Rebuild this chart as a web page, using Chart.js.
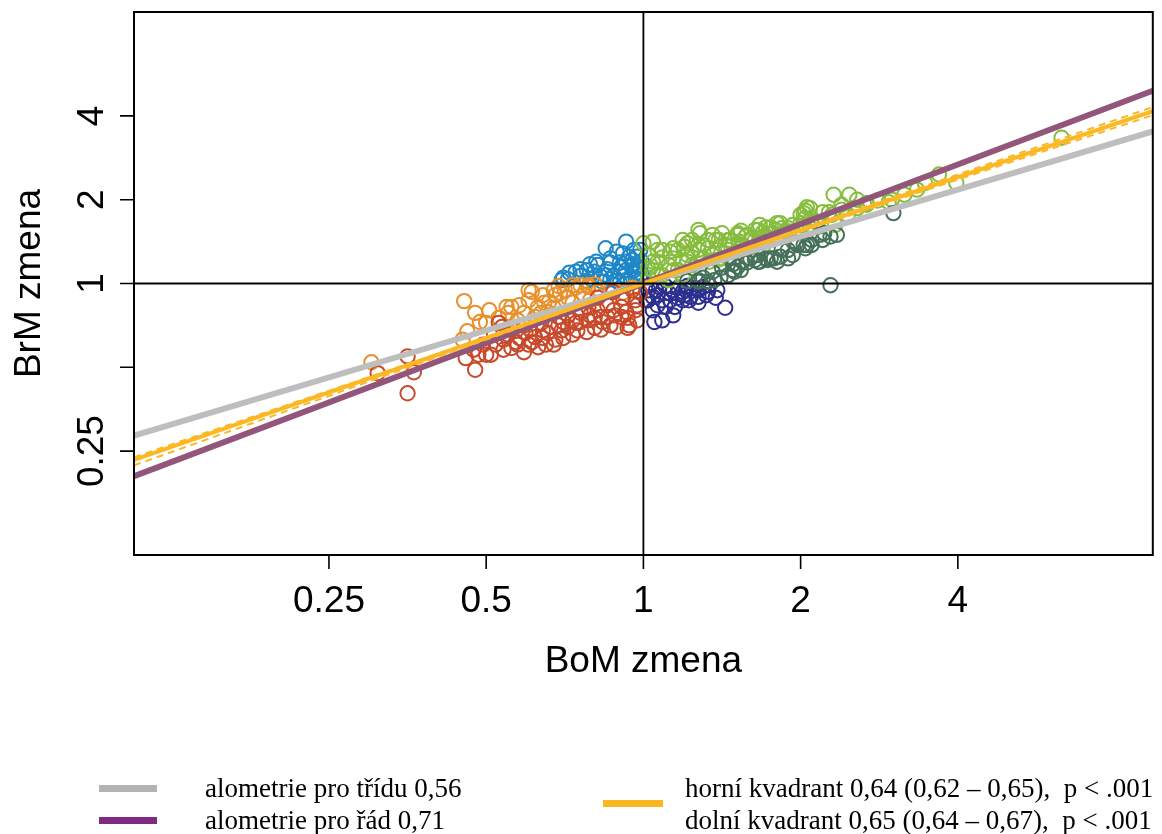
<!DOCTYPE html>
<html lang="cs">
<head>
<meta charset="utf-8">
<title>BrM zmena vs BoM zmena</title>
<script src="https://cdn.jsdelivr.net/npm/chart.js@4.4.1/dist/chart.umd.min.js"></script>
<style>
  html, body { margin: 0; padding: 0; background: #fff; overflow: hidden; }
  #wrap { position: relative; width: 1162px; height: 834px; }
  #chart { position: absolute; left: 0; top: 0; }
  .sw { position: absolute; height: 7px; }
  .lg { position: absolute; font-family: 'Liberation Serif', 'DejaVu Serif', serif; font-size: 27px; line-height: 30px; color: #000; white-space: pre; }
</style>
</head>
<body>
<div id="wrap">
  <canvas id="chart" width="1162" height="834"></canvas>
  <div class="sw" style="left:99px;top:785px;width:58px;background:#b3b3b3"></div>
  <div class="sw" style="left:99px;top:817px;width:58px;background:#7e2a84"></div>
  <div class="sw" style="left:603px;top:800px;width:60px;background:#fbb722"></div>
  <div class="lg" style="left:205px;top:773px">alometrie pro třídu 0,56</div>
  <div class="lg" style="left:205px;top:805px">alometrie pro řád 0,71</div>
  <div class="lg" style="left:685px;top:773px">horní kvadrant 0,64 (0,62 – 0,65),  p &lt; .001</div>
  <div class="lg" style="left:685px;top:805px">dolní kvadrant 0,65 (0,64 – 0,67),  p &lt; .001</div>
</div>
<script>
// values are log2 of the change ratio: [BoM, BrM]
const ptsOrange = [
  [-1.73,-0.94], [-1.14,-0.21], [-1.07,-0.35], [-1.04,-0.46], [-1.00,-0.47], [-1.12,-0.57],
  [-1.15,-0.67], [-0.87,-0.28], [-0.84,-0.28], [-0.86,-0.35], [-0.76,-0.35], [-0.71,-0.10],
  [-0.67,-0.28], [-0.63,-0.23], [-0.60,-0.22], [-0.56,-0.14], [-0.53,-0.11], [-0.50,-0.08],
  [-0.43,-0.05], [-0.40,-0.02], [-0.35,-0.04], [-0.31,-0.01], [-0.54,-0.03], [-0.61,-0.34],
  [-0.65,-0.35], [-0.69,-0.40], [-0.48,-0.17], [-0.38,-0.14], [-0.29,-0.10], [-0.21,-0.08],
  [-0.13,-0.11], [-0.07,-0.05], [-0.45,-0.23], [-0.34,-0.20], [-0.73,-0.20], [-0.80,-0.44],
  [-0.57,-0.29], [-0.64,-0.14], [-0.57,-0.08], [-0.45,-0.02], [-0.35,-0.02], [-0.79,-0.26],
  [-0.92,-0.41], [-0.98,-0.32], [-0.73,-0.08]
];
const ptsRed = [
  [-1.50,-1.31], [-1.46,-1.06], [-1.69,-1.07], [-1.50,-0.87], [-1.07,-1.03], [-1.13,-0.89],
  [-1.05,-0.85], [-1.00,-0.85], [-0.97,-0.85], [-0.84,-0.77], [-0.80,-0.73], [-0.73,-0.73],
  [-0.67,-0.76], [-0.62,-0.73], [-0.92,-0.47], [-0.90,-0.52], [-0.81,-0.56], [-0.75,-0.59],
  [-0.69,-0.64], [-0.61,-0.59], [-0.56,-0.67], [-0.52,-0.56], [-0.48,-0.52], [-0.43,-0.47],
  [-0.40,-0.46], [-0.35,-0.44], [-0.31,-0.41], [-0.27,-0.40], [-0.23,-0.40], [-0.18,-0.38],
  [-0.14,-0.40], [-0.10,-0.41], [-0.05,-0.32], [-0.04,-0.44], [-0.81,-0.70], [-0.71,-0.70],
  [-0.59,-0.52], [-0.65,-0.47], [-0.54,-0.40], [-0.40,-0.35], [-0.29,-0.32], [-0.14,-0.28],
  [-0.05,-0.20], [-0.02,-0.11], [-0.48,-0.38], [-0.35,-0.29], [-0.23,-0.26], [-0.13,-0.17],
  [-0.29,-0.17], [-0.19,-0.10], [-0.07,-0.08], [-0.42,-0.56], [-0.31,-0.53], [-0.21,-0.50],
  [-0.54,-0.50], [-0.64,-0.56], [-0.76,-0.50], [-0.89,-0.67], [-0.94,-0.73], [-0.10,-0.53],
  [-1.02,-0.73], [-0.89,-0.79], [-0.76,-0.82], [-0.57,-0.73], [-0.51,-0.65], [-0.45,-0.61],
  [-0.36,-0.58], [-0.27,-0.55], [-0.17,-0.52], [-0.09,-0.50], [-0.86,-0.61], [-0.95,-0.61],
  [-0.64,-0.65], [-0.45,-0.44], [-0.26,-0.46], [-0.19,-0.32], [-0.11,-0.34], [-0.04,-0.26],
  [-0.34,-0.38], [-0.51,-0.46], [-0.72,-0.55], [-0.79,-0.65], [-1.08,-0.79]
];
const ptsBlue = [
  [-0.24,0.42], [-0.11,0.50], [-0.47,0.13], [-0.40,0.17], [-0.34,0.23], [-0.31,0.14],
  [-0.23,0.17], [-0.15,0.25], [-0.14,0.20], [-0.09,0.32], [-0.07,0.28], [-0.04,0.32],
  [-0.48,0.05], [-0.33,0.05], [-0.40,0.09], [-0.27,0.08], [-0.19,0.09], [-0.12,0.09],
  [-0.05,0.12], [-0.02,0.05], [-0.26,0.02], [-0.17,0.03], [-0.10,0.03], [-0.04,0.21],
  [-0.16,0.14], [-0.21,0.25], [-0.52,0.04], [-0.29,0.22], [-0.06,0.40], [-0.02,0.18],
  [-0.36,0.03], [-0.13,0.36], [-0.11,0.16], [-0.07,0.21], [-0.05,0.07], [-0.01,0.26],
  [-0.01,0.11], [-0.08,0.01], [-0.15,0.01], [-0.21,0.05], [-0.51,0.07], [-0.43,0.14],
  [-0.36,0.16], [-0.30,0.26], [-0.21,0.30], [-0.17,0.38], [-0.11,0.26], [-0.02,0.40],
  [-0.24,0.10], [-0.06,0.16]
];
const ptsGreen = [
  [0.00,0.48], [0.06,0.50], [0.35,0.64], [0.36,0.60], [0.50,0.60], [0.60,0.60], [0.62,0.63],
  [0.31,0.52], [0.28,0.48], [0.22,0.40], [0.17,0.38], [0.26,0.44], [0.46,0.52], [0.52,0.46],
  [0.55,0.52], [0.65,0.56], [0.73,0.64], [0.74,0.70], [0.78,0.67], [0.81,0.67], [0.85,0.72],
  [0.90,0.62], [0.93,0.62], [1.00,0.72], [1.02,0.84], [1.06,0.90], [1.03,0.78], [1.21,1.06],
  [1.31,1.06], [1.36,1.00], [1.04,0.91], [0.87,0.72], [0.71,0.64], [0.66,0.58], [1.00,0.82],
  [1.03,0.87], [1.06,0.66], [1.22,0.70], [0.79,0.55], [0.76,0.44], [1.88,1.30], [1.79,1.20],
  [1.66,1.06], [1.58,1.00], [1.99,1.20], [2.66,1.74], [1.56,0.97], [1.74,1.12],
  [0.06,0.16], [0.09,0.26], [0.12,0.10], [0.16,0.22], [0.19,0.30], [0.22,0.16], [0.25,0.26],
  [0.28,0.34], [0.31,0.22], [0.35,0.40], [0.38,0.30], [0.41,0.42], [0.44,0.34], [0.47,0.40],
  [0.50,0.30], [0.54,0.40], [0.57,0.46], [0.61,0.38], [0.63,0.46], [0.03,0.07], [0.03,0.34],
  [0.09,0.10], [0.12,0.40], [0.16,0.04], [0.19,0.16], [0.25,0.10], [0.31,0.37], [0.38,0.46],
  [0.42,0.26], [0.48,0.52], [0.55,0.30], [0.61,0.50], [0.67,0.42], [0.71,0.52], [0.76,0.56],
  [0.82,0.60], [0.88,0.66], [0.95,0.70], [0.98,0.62], [1.07,0.78], [1.11,0.73], [1.14,0.85],
  [1.18,0.85], [1.26,0.94], [1.30,0.82], [1.42,0.94], [1.49,0.99], [0.12,0.31], [0.19,0.42],
  [0.28,0.26], [0.35,0.46], [0.41,0.52], [0.47,0.28], [0.54,0.52], [0.60,0.58], [0.69,0.54],
  [0.76,0.61], [0.84,0.64], [0.92,0.66], [1.01,0.69], [1.10,0.73], [1.20,0.82], [1.26,0.88],
  [1.36,0.90], [1.42,0.96], [0.06,0.26], [0.09,0.40], [0.03,0.18], [0.25,0.52], [0.44,0.58]
];
const ptsDarkGreen = [
  [1.19,-0.02], [1.03,0.42], [1.02,0.46], [0.83,0.30], [0.85,0.26], [0.79,0.28], [0.74,0.26],
  [0.71,0.28], [1.19,0.56], [1.23,0.58], [1.59,0.84], [0.97,0.48], [1.04,0.46], [0.81,0.30],
  [0.66,0.25], [0.68,0.30], [0.60,0.20], [0.62,0.16], [0.58,0.14], [0.54,0.10], [0.49,0.07],
  [0.45,0.04], [0.41,0.02], [1.12,0.58], [0.98,0.46], [0.87,0.32], [1.15,0.60], [0.38,0.07],
  [0.44,0.14], [0.50,0.19], [0.57,0.23], [0.63,0.26], [0.73,0.34], [0.92,0.40], [0.35,0.04],
  [0.28,0.03], [0.92,0.30], [1.07,0.52], [0.73,0.26], [0.95,0.34], [1.07,0.46], [1.14,0.52],
  [0.35,0.02], [0.57,0.16], [0.78,0.30], [0.88,0.40]
];
const ptsNavy = [
  [0.46,-0.17], [0.52,-0.29], [0.29,-0.20], [0.30,-0.16], [0.20,-0.28], [0.14,-0.28],
  [0.06,-0.32], [0.07,-0.46], [0.12,-0.44], [0.22,-0.17], [0.26,-0.14], [0.35,-0.16],
  [0.09,-0.14], [0.03,-0.08], [0.19,-0.08], [0.25,-0.10], [0.31,-0.05], [0.38,-0.04],
  [0.42,-0.02], [0.02,-0.20], [0.04,-0.02], [0.10,-0.04], [0.16,-0.11], [0.22,-0.05],
  [0.28,-0.03], [0.35,-0.08], [0.41,-0.10], [0.06,-0.16], [0.12,-0.20], [0.08,-0.08],
  [0.14,-0.03], [0.27,-0.08], [0.03,-0.20], [0.09,-0.26], [0.17,-0.20], [0.25,-0.20],
  [0.35,-0.23], [0.40,-0.14], [0.47,-0.08], [0.19,-0.38]
];

// allometric slopes (log-log)
const slopeTrida = 0.56;
const slopeRad = 0.71;
const slopeHorni = [0.635, 0.62, 0.65];   // fit, CI low, CI high (x > 1)
const slopeDolni = [0.65, 0.64, 0.67];    // fit, CI low, CI high (x < 1)

// axis limits (log2) and ticks
const AX_MIN = -3.24, AX_MAX = 3.24;
const xTickVals = [0.25, 0.5, 1, 2, 4];
const xTickLabels = ['0.25', '0.5', '1', '2', '4'];
const yTickVals = [0.25, 0.5, 1, 2, 4];
const yTickLabels = ['0.25', '', '1', '2', '4'];

const COLORS = {
  orange: '#e8902c',
  red: '#c9492b',
  blue: '#1f87c8',
  green: '#86bd3e',
  darkGreen: '#45705a',
  navy: '#2d2f90',
  gray: '#bebebe',
  purple: '#93567a',
  yellow: '#fcb824'
};

function pts(arr) {
  return arr.map(p => ({ x: p[0], y: p[1] }));
}

function group(arr, color) {
  return {
    data: pts(arr),
    showLine: false,
    pointRadius: 7.2,
    pointBorderWidth: 2,
    pointBackgroundColor: 'rgba(0,0,0,0)',
    pointBorderColor: color,
    order: 10
  };
}

// line through origin, separate slope left/right of x = 1
function fitLine(sLeft, sRight, color, width, dash, order) {
  return {
    data: [
      { x: AX_MIN, y: sLeft * AX_MIN },
      { x: 0, y: 0 },
      { x: AX_MAX, y: sRight * AX_MAX }
    ],
    showLine: true,
    pointRadius: 0,
    borderColor: color,
    borderWidth: width,
    borderDash: dash || [],
    order
  };
}

const frame = {
  id: 'frame',
  afterDatasetsDraw(chart) {
    const { ctx, chartArea: a, scales: { x, y } } = chart;
    const x0 = x.getPixelForValue(0), y0 = y.getPixelForValue(0);
    ctx.save();
    ctx.strokeStyle = '#000';
    ctx.lineWidth = 1.8;
    ctx.beginPath();
    ctx.moveTo(x0, a.top); ctx.lineTo(x0, a.bottom);
    ctx.moveTo(a.left, y0); ctx.lineTo(a.right, y0);
    ctx.stroke();
    ctx.restore();
  },
  afterDraw(chart) {
    const { ctx, chartArea: a, scales: { x, y } } = chart;
    ctx.save();
    ctx.strokeStyle = '#000';
    ctx.lineWidth = 2;
    ctx.strokeRect(a.left, a.top, a.right - a.left, a.bottom - a.top);

    ctx.lineWidth = 1.6;
    ctx.beginPath();
    xTickVals.forEach(v => {
      const px = x.getPixelForValue(Math.log2(v));
      ctx.moveTo(px, a.bottom); ctx.lineTo(px, a.bottom + 14);
    });
    yTickVals.forEach(v => {
      const py = y.getPixelForValue(Math.log2(v));
      ctx.moveTo(a.left, py); ctx.lineTo(a.left - 14, py);
    });
    ctx.stroke();

    ctx.fillStyle = '#000';
    ctx.font = '37px "Liberation Sans", Arial, sans-serif';
    ctx.textAlign = 'center';
    ctx.textBaseline = 'alphabetic';
    xTickVals.forEach((v, i) => {
      ctx.fillText(xTickLabels[i], x.getPixelForValue(Math.log2(v)), a.bottom + 57);
    });
    yTickVals.forEach((v, i) => {
      if (!yTickLabels[i]) return;
      ctx.save();
      ctx.translate(a.left - 31, y.getPixelForValue(Math.log2(v)));
      ctx.rotate(-Math.PI / 2);
      ctx.fillText(yTickLabels[i], 0, 0);
      ctx.restore();
    });

    ctx.fillText('BoM zmena', (a.left + a.right) / 2, a.bottom + 117);
    ctx.save();
    ctx.translate(40, (a.top + a.bottom) / 2);
    ctx.rotate(-Math.PI / 2);
    ctx.fillText('BrM zmena', 0, 0);
    ctx.restore();
    ctx.restore();
  }
};

new Chart(document.getElementById('chart'), {
  type: 'scatter',
  data: {
    datasets: [
      group(ptsRed, COLORS.red),
      group(ptsOrange, COLORS.orange),
      group(ptsDarkGreen, COLORS.darkGreen),
      group(ptsGreen, COLORS.green),
      group(ptsNavy, COLORS.navy),
      group(ptsBlue, COLORS.blue),
      fitLine(slopeTrida, slopeTrida, COLORS.gray, 6, null, 5),
      fitLine(slopeRad, slopeRad, COLORS.purple, 6, null, 4),
      fitLine(slopeDolni[1], slopeHorni[2], COLORS.yellow, 2, [7, 5], 3),
      fitLine(slopeDolni[2], slopeHorni[1], COLORS.yellow, 2, [7, 5], 3),
      fitLine(slopeDolni[0], slopeHorni[0], COLORS.yellow, 4, null, 2)
    ]
  },
  options: {
    responsive: false,
    animation: false,
    events: [],
    layout: { padding: { left: 134, top: 12, right: 5, bottom: 279 } },
    scales: {
      x: { type: 'linear', min: AX_MIN, max: AX_MAX, display: false },
      y: { type: 'linear', min: AX_MIN, max: AX_MAX, display: false }
    },
    plugins: { legend: { display: false }, tooltip: { enabled: false } }
  },
  plugins: [frame]
});
</script>
</body>
</html>
